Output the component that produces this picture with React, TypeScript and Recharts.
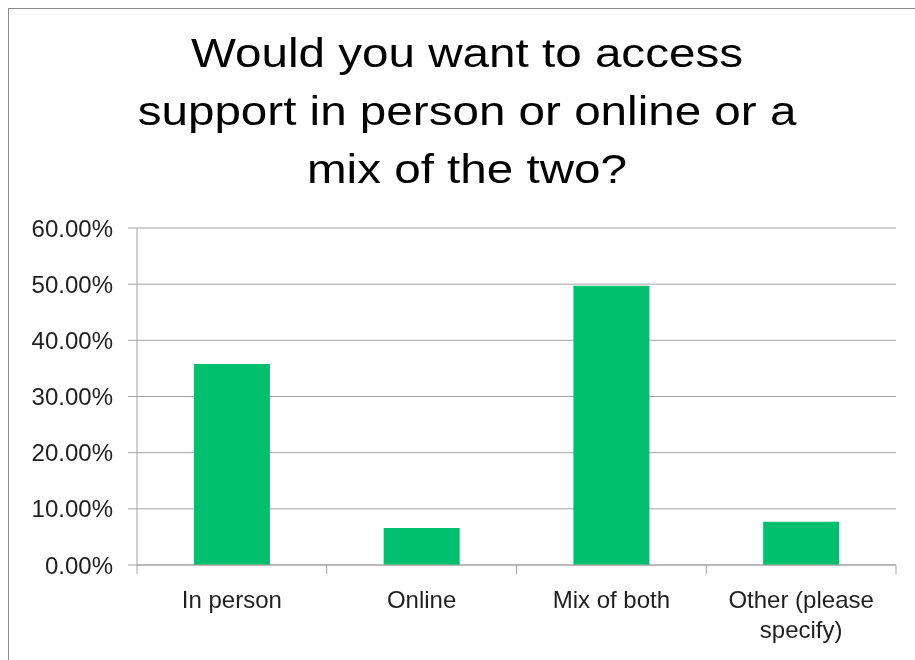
import React from "react";
import { Bar, BarChart, CartesianGrid, XAxis, YAxis } from "recharts";

const categories = ["In person", "Online", "Mix of both", "Other (please specify)"];
const categoryLines = [["In person"], ["Online"], ["Mix of both"], ["Other (please", "specify)"]];
const shares = [0.358, 0.066, 0.497, 0.077];
const yTicks = [0, 0.1, 0.2, 0.3, 0.4, 0.5, 0.6];
const titleLines = ["Would you want to access", "support in person or online or a", "mix of the two?"];

const FONT = "'Liberation Sans', Arial, sans-serif";
const GRID = "#a3a3a3";
const GREEN = "#00bf6f";

const rows = categories.map((name, i) => ({ name, value: shares[i] }));

function CategoryTick(props: any) {
  const { x, y, width, visibleTicksCount, index } = props;
  const band = width / (visibleTicksCount || categories.length);
  const axisY = y - 26;
  const left = x - band / 2;
  const lines = categoryLines[index] || [];
  return (
    <g>
      <line x1={left} x2={left} y1={axisY} y2={axisY + 9} stroke={GRID} />
      {index === categories.length - 1 && (
        <line x1={left + band} x2={left + band} y1={axisY} y2={axisY + 9} stroke={GRID} />
      )}
      <text x={x} y={y + 17} textAnchor="middle" fontSize={24} fontFamily={FONT} fill="#1f1f1f">
        {lines.map((l, i) => (
          <tspan key={l} x={x} dy={i === 0 ? 0 : 30}>
            {l}
          </tspan>
        ))}
      </text>
    </g>
  );
}

export default function App() {
  return (
    <div style={{ position: "relative", width: 899, height: 644 }}>
      <div
        style={{
          position: "fixed",
          left: 8,
          top: 8,
          right: 0,
          bottom: 0,
          borderTop: "1px solid #8c8c8c",
          borderLeft: "1px solid #8c8c8c",
          pointerEvents: "none",
        }}
      />
      <svg width={899} height={200} style={{ position: "absolute", left: 0, top: 0 }}>
        <g transform="translate(459,0) scale(1.19,1)">
          {titleLines.map((line, i) => (
            <text key={line} x={0} y={59 + i * 58} textAnchor="middle" fontSize={40} fontFamily={FONT} fill="#000">
              {line}
            </text>
          ))}
        </g>
      </svg>
      <BarChart
        width={899}
        height={644}
        data={rows}
        barCategoryGap="30%"
        margin={{ top: 220, right: 11, bottom: 7, left: 0 }}
      >
        <CartesianGrid vertical={false} stroke={GRID} />
        <XAxis
          dataKey="name"
          height={80}
          stroke={GRID}
          tickLine={false}
          tickSize={9}
          tickMargin={17}
          interval={0}
          tick={<CategoryTick />}
        />
        <YAxis
          width={129}
          domain={[0, 0.6]}
          ticks={yTicks}
          stroke={GRID}
          tickSize={9}
          tickMargin={15}
          tickFormatter={(v: number) => (v * 100).toFixed(2) + "%"}
          tick={{ fontSize: 24, fontFamily: FONT, fill: "#1f1f1f" }}
        />
        <Bar dataKey="value" fill={GREEN} isAnimationActive={false} />
      </BarChart>
    </div>
  );
}
